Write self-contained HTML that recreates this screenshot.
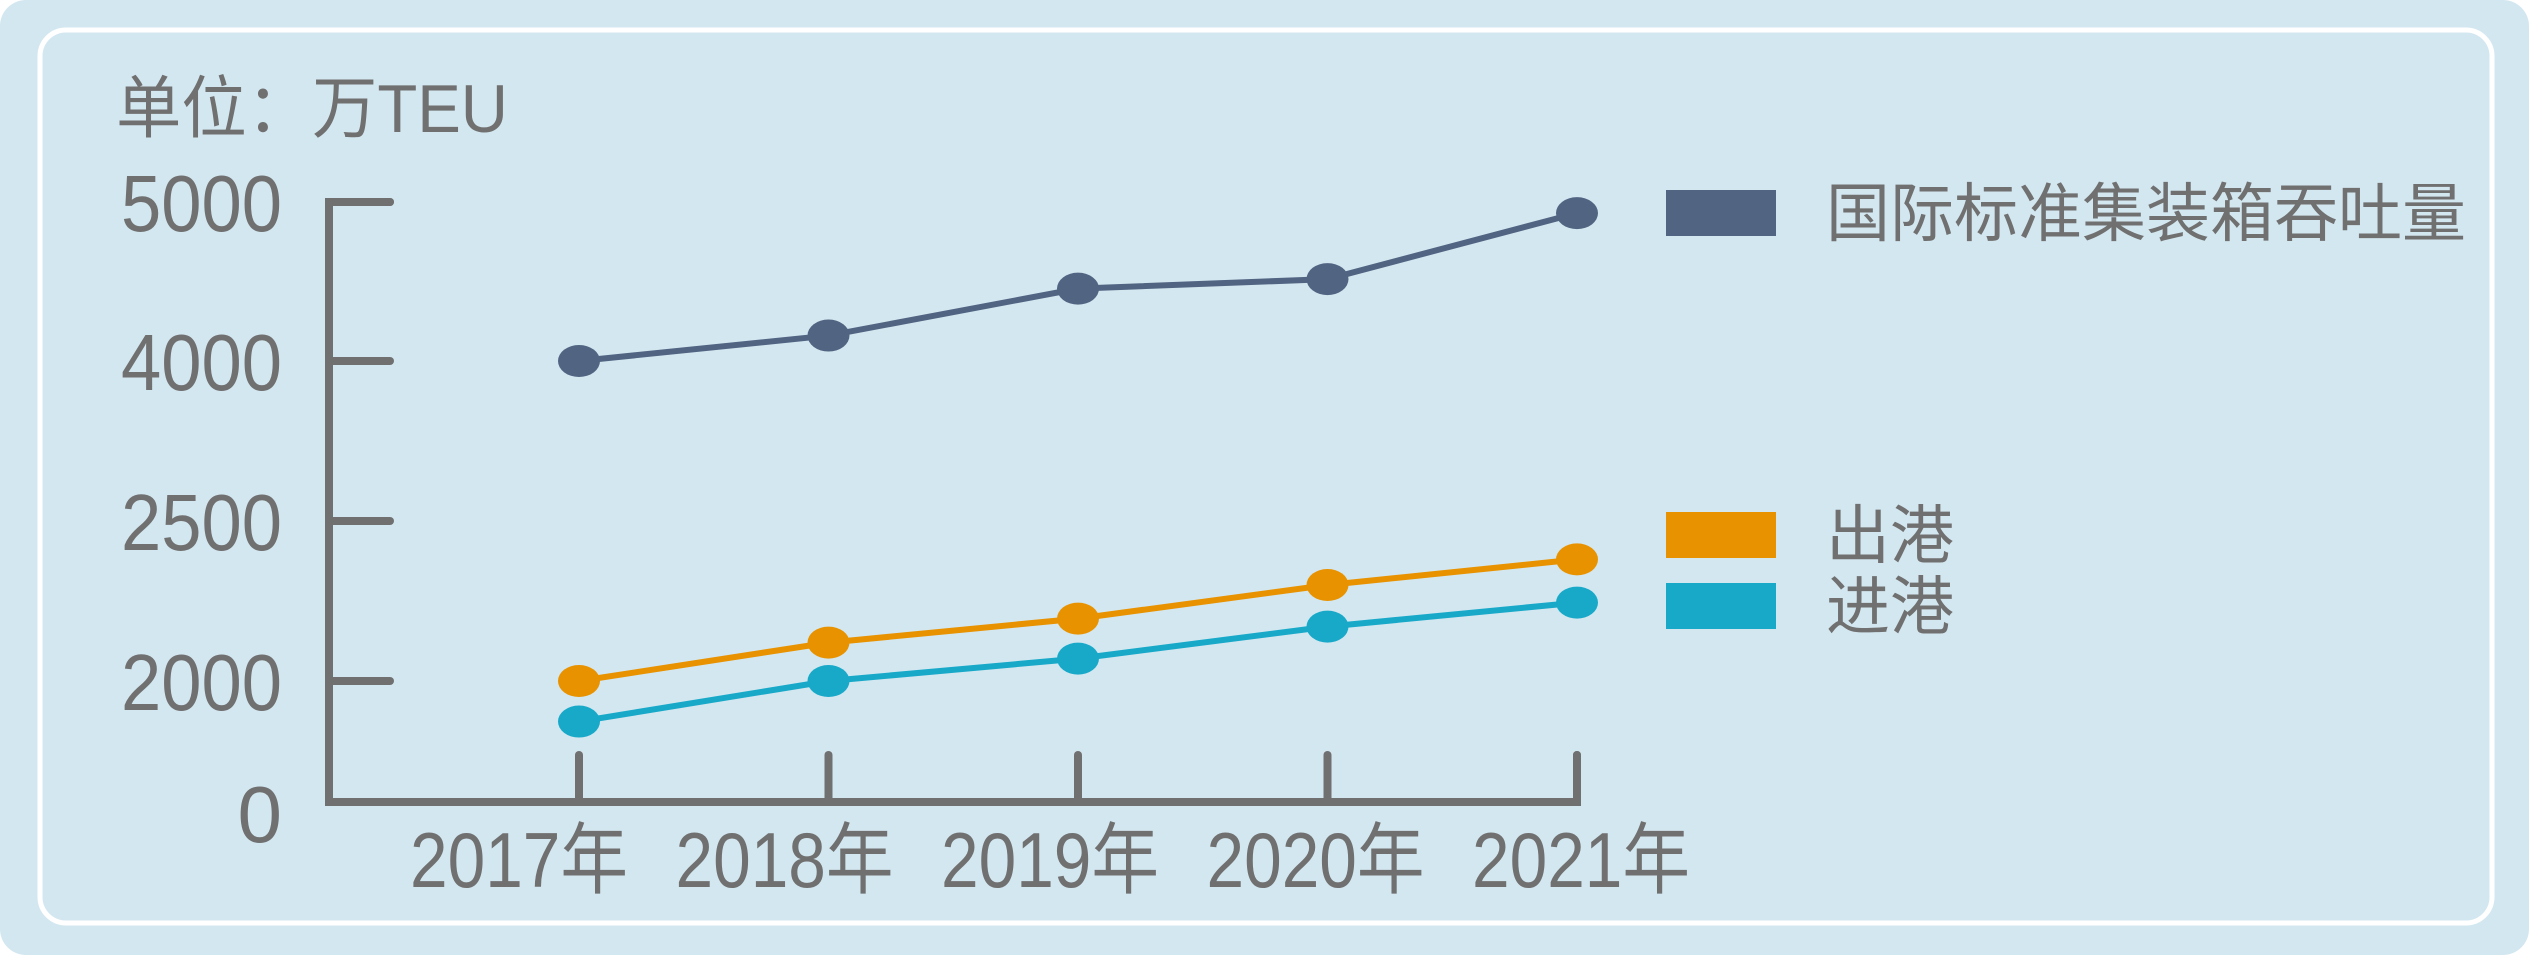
<!DOCTYPE html>
<html><head><meta charset="utf-8"><style>
html,body{margin:0;padding:0;background:#fff;}
svg{display:block;}
text{font-family:"Liberation Sans","Noto Sans CJK SC",sans-serif;fill:#707070;}
</style></head><body>
<svg id="chart" width="2529" height="955" viewBox="0 0 2529 955">
<rect x="0" y="0" width="2529" height="955" rx="26" fill="#d3e7f0"/>
<rect x="40" y="30" width="2452" height="893" rx="26" fill="none" stroke="#fff" stroke-width="5"/>
<text x="116" y="132" font-size="68" textLength="392" lengthAdjust="spacingAndGlyphs">单位：万TEU</text>
<g id="axes"></g>
<g id="series"></g>
<g id="legend"></g>
</svg>
<script>
const years = ["2017年","2018年","2019年","2020年","2021年"];
const tickValues = [0,2000,2500,4000,5000];
const tickLabels = ["0","2000","2500","4000","5000"];
const totalValues = [4000,4160,4455,4515,4930];
const outboundValues = [2000,2120,2195,2300,2380];
const inboundValues = [1330,2000,2070,2170,2245];
const seriesNames = ["国际标准集装箱吞吐量","出港","进港"];

const NS="http://www.w3.org/2000/svg";
const tickPix=[802,681,521,361,202];
function y(v){
  for(let i=0;i<tickValues.length-1;i++){
    if(v<=tickValues[i+1]||i===tickValues.length-2){
      const t=(v-tickValues[i])/(tickValues[i+1]-tickValues[i]);
      return tickPix[i]+t*(tickPix[i+1]-tickPix[i]);
    }
  }
}
function x(i){return 579+i*249.5;}
function labelX(i){return 519+i*265.5;}
function mk(tag,attrs,parent){const e=document.createElementNS(NS,tag);for(const k in attrs)e.setAttribute(k,attrs[k]);parent.appendChild(e);return e;}
const axes=document.getElementById('axes');
const G="#707070";
const ya=mk('path',{d:`M390 202 H329 V802 H${x(4)} V755`,fill:'none',stroke:G,'stroke-width':8,'stroke-linecap':'round','stroke-linejoin':'miter'},axes);


tickValues.forEach((v,i)=>{
  if(i>0){
    const l=mk('line',{x1:329,x2:390,y1:y(v),y2:y(v),stroke:G,'stroke-width':8,'stroke-linecap':'round'},axes);
    
    
  }
  const attrs={x:282,y:(i===0?813:y(v))+29,'font-size':80,'text-anchor':'end'};
  if(i>0){attrs.textLength=161;attrs.lengthAdjust='spacingAndGlyphs';}
  const t=mk('text',attrs,axes);
  t.textContent=tickLabels[i];
  
  
});
years.forEach((yr,i)=>{
  const l=mk('line',{x1:x(i),x2:x(i),y1:755,y2:802,stroke:G,'stroke-width':8,'stroke-linecap':'round'},axes);
  
  
  const t=mk('text',{x:labelX(i),y:887,'font-size':78,'text-anchor':'middle',textLength:218,lengthAdjust:'spacingAndGlyphs'},axes);
  t.textContent=yr;
  
  
});
const ser=document.getElementById('series');
const colors=["#516482","#e89200","#18a9c9"];
[totalValues,outboundValues,inboundValues].forEach((vals,s)=>{
  const g=mk('g',{},ser);
  
  
  const p=mk('polyline',{points:vals.map((v,i)=>x(i)+','+y(v)).join(' '),fill:'none',stroke:colors[s],'stroke-width':6},g);
  
  
  vals.forEach((v,i)=>{
    const c=mk('ellipse',{cx:x(i),cy:y(v),rx:21,ry:16,fill:colors[s]},g);
    
    
  });
});
const leg=document.getElementById('legend');
const legY=[213,535,606];
seriesNames.forEach((n,s)=>{
  const r=mk('rect',{x:1666,y:legY[s]-23,width:110,height:46,fill:colors[s]},leg);
  
  
  const t=mk('text',{x:1826,y:legY[s]+23,'font-size':64},leg);
  t.textContent=n;
  
  
});
</script>
</body></html>
